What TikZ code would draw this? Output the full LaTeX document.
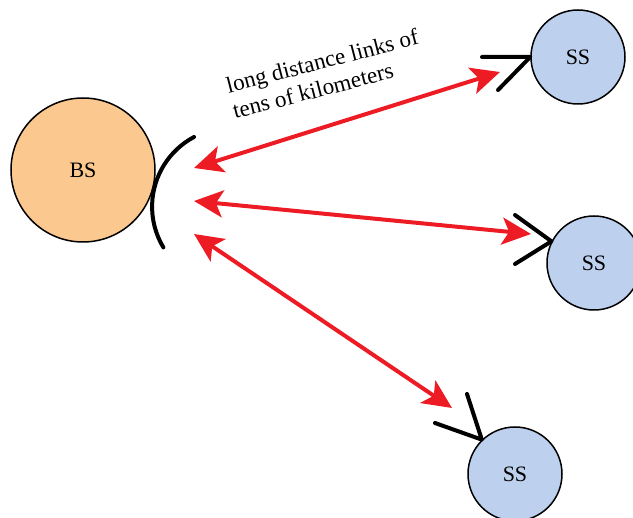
\documentclass[tikz,border=0pt]{standalone}
\usepackage{fontspec}
\setmainfont{Liberation Serif}
\usetikzlibrary{arrows.meta}
\definecolor{bsfill}{RGB}{251,200,143}
\definecolor{ssfill}{RGB}{189,208,237}
\definecolor{linkred}{RGB}{237,28,36}
\begin{document}
\begin{tikzpicture}[x=1pt,y=-1pt,
  station/.style={circle, draw=black, line width=1.5pt, inner sep=0pt,
    font=\fontsize{22}{26}\selectfont},
  basestation/.style={station, fill=bsfill, minimum size=144pt},
  substation/.style={station, fill=ssfill, minimum size=94pt},
  antenna/.style={line width=4pt, line cap=round, line join=round},
  linktip/.tip={Stealth[length=29pt,width=27pt,inset=7pt]},
  link/.style={draw=linkred, line width=4pt, linktip-linktip},
  caption/.style={font=\fontsize{23}{26.5}\selectfont, align=left,
    anchor=base west, rotate=14.5, inner sep=0pt}]
\useasboundingbox (0,0) rectangle (633,518);

% stations
\node[basestation] (bs) at (83,170) {BS};
\node[substation] (ss1) at (578,57) {SS};
\node[substation] (ss2) at (594,263) {SS};
\node[substation] (ss3) at (515,474) {SS};

% base station sector antenna
\draw[antenna] (194,137) arc[start angle=242, end angle=149, radius=79];

% subscriber antennas
\draw[antenna] (482,57) -- (ss1.west) -- (498,90);
\draw[antenna] (515,215) -- (ss2.153) -- (515,264);
\draw[antenna] (467,394) -- (ss3.134) -- (435,423);

% link end points
\coordinate (b1) at (194,168);
\coordinate (b2) at (194,201);
\coordinate (b3) at (194,234);
\coordinate (s1) at (500,72);
\coordinate (s2) at (531,234);
\coordinate (s3) at (452,408);

% radio links
\draw[link] (b1) -- (s1);
\draw[link] (b2) -- (s2);
\draw[link] (b3) -- (s3);

% link label (anchored on the baseline of its last line)
\node[caption] (lbl) at (235,119) {long distance links of\\tens of kilometers};
\end{tikzpicture}
\end{document}
